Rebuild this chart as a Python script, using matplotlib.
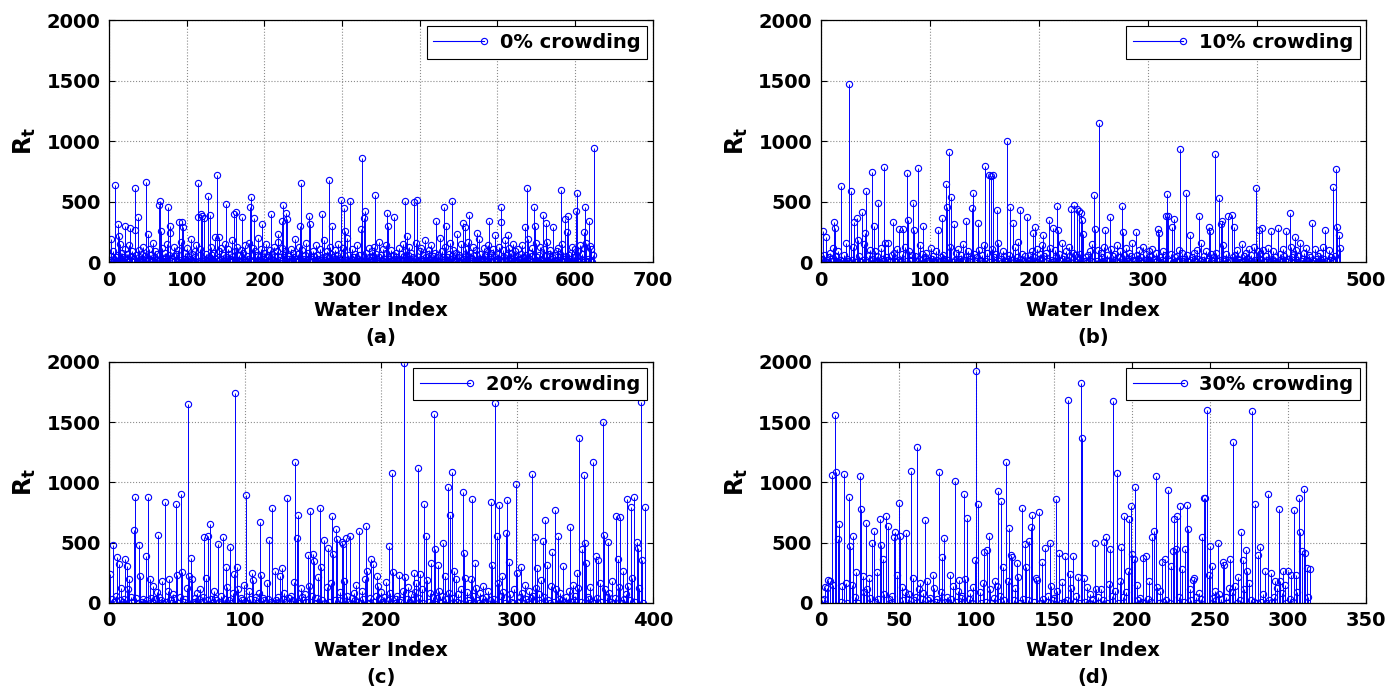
import numpy as np
import matplotlib
matplotlib.use("Agg")
import matplotlib.pyplot as plt
from matplotlib.lines import Line2D
from matplotlib.legend_handler import HandlerBase

plt.rcParams['font.family'] = ['DejaVu Sans']
plt.rcParams['font.weight'] = 'bold'

# ---- data ---------------------------------------------------------------
# low-level background of every series, in units of 10
base_a = """
2 0 5 1 9 3 0 12 4 1 0 6 2 15 3 0 8 1 4 11 0 3 7 1
0 14 2 5 1 9 0 3 18 1 6 0 2 10 4 1 0 7 3 13 0 5 2 8
1 0 11 3 6 0 2 16 1 4 9 0 3 7 1 20 2 0 5 12 1 3 0 8
4 1 15 0 6 2 9 1 3 0 13 5 2 7 0 1 10 4 0 17 2 6 1 3
0 8 2 12 1 5 0 3 19 2 7 1 0 9 4 14 0 2 6 1 11 3 0 5
1 16 3 0 7 2 10 1 4 0 13 6 1 2 8 0 21 3 5 1 0 9 2 12
3 0 6 1 15 2 4 0 11 1 7 3 0 18 2 5 1 9 0 4 13 2 6 0
1 10 3 0 8 2 14 1 5 0 3 16 2 7 1 0 12 4 2 9 0 6 1 20
2 0 5 11 1 3 0 8 2 15 4 1 6 0 10 3 1 7 2 13 0 5 1 9
0 17 2 4 1 12 3 0 6 2 9 1 14 0 3 5 1 11 2 0 8 4 19 1
3 0 7 2 13 1 5 0 10 3 1 6 16 0 2 8 1 4 12 0 3 9 1 5
2 14 0 6 1 3 11 2 0 8 4 1 18 2 5 0 9 1 3 13 0 7 2 4
1 0 10 3 6 1 15 2 0 4 8 1 12 3 0 5 2 20 1 6 0 9 3 1
11 2 4 0 7 1 14 3 0 6 2 10 1 5 0 16 2 3 8 1 0 12 4 2
0 9 1 5 13 2 0 7 3 1 17 4 0 6 2 11 1 3 0 8 14 2 5 1
3 0 10 2 6 1 19 0 4 8 2 1 12 3 0 7 1 15 2 5 0 9 3 1
6 13 0 2 8 1 4 11 0 3 16 2 5 1 0 9 3 12 1 6 0 2 18 4
1 7 0 10 3 2 14 1 5 0 8 2 11 4 0 6 1 20 3 0 9 2 5 1
13 0 4 2 7 1 16 3 0 5 10 1 2 8 0 12 4 1 6 0 15 2 3 9
1 0 11 5 2 17 0 4 8 1 3 13 0 6 2 10 1 4 0 19 3 7 1 2
0 12 3 6 1 9 0 14 2 4 1 8 0 11 5 2 16 1 3 0 7 13 2 5
1 0 10 4 2 18 1 6 0 3 12 2 8 1 0 15 4 2 9 1 5 0 11 3
2 7 0 14 1 4 10 0 6 2 19 1 3 8 0 12 5 1 0 9 2 16 4 1
6 0 13 2 3 8 1 11 0 5 2 17 1 7 0 10 3 4 1 14 0 6 2 9
1 12 0 4 7 2 15 1 3 0 10 5 2 20 1 6 0 8 3 13 1 4 0 11
2 6 1 9 0 14 3 1 7 0 12 2 5 16 1 3 0 8 4 11 2 0 6 3
"""
base_b = """
3 0 6 1 10 2 0 4 8 1 12 0 3 5 1 9 0 2 14 1 6 0 11 3
1 7 0 4 2 13 1 0 9 3 5 1 0 8 2 15 1 4 0 6 10 2 1 3
0 9 1 5 2 0 12 3 1 7 0 4 2 16 1 0 6 3 8 1 0 11 2 5
1 0 7 3 13 1 4 0 9 2 1 6 0 10 5 1 0 3 14 2 7 1 0 4
8 1 2 0 12 3 5 1 0 9 2 17 1 4 0 6 3 1 10 0 2 7 13 1
0 4 2 8 1 11 0 3 6 1 15 2 0 5 9 1 3 0 12 2 7 1 4 0
10 2 1 6 0 14 3 1 8 2 0 5 11 1 4 0 7 2 16 1 3 0 9 5
1 0 12 3 6 1 2 8 0 13 1 4 2 0 10 3 7 1 5 0 15 2 1 6
0 9 2 4 1 11 0 3 7 2 14 1 5 0 8 1 3 12 0 2 6 1 10 4
2 0 7 1 16 3 5 0 9 1 2 13 0 4 8 1 6 0 11 3 1 7 2 0
12 1 4 0 6 2 9 1 15 0 3 5 1 10 2 0 8 4 1 13 0 2 6 1
3 11 0 5 2 7 1 14 0 4 9 1 2 6 0 12 3 1 8 0 5 16 2 1
0 6 3 10 1 4 0 13 2 7 1 0 9 5 1 11 2 3 0 8 15 1 4 0
2 9 1 6 0 12 3 1 7 2 0 14 4 1 5 0 10 2 8 1 3 0 11 6
1 0 13 2 4 8 1 0 10 3 6 1 16 2 0 5 9 1 3 12 0 7 2 1
4 0 8 1 11 2 5 0 14 1 3 7 0 9 2 1 12 4 0 6 1 10 3 2
0 15 1 5 2 8 0 3 11 1 6 0 13 2 4 1 9 0 7 3 1 10 0 5
2 12 1 0 6 3 9 1 4 0 14 2 7 1 0 11 5 2 8 0 3 1 13 4
0 7 1 10 2 5 0 16 1 3 8 0 12 2 1 6 4 0 9 1 11 3 0 5
1 8 2 0 13 3 6 1 0 10 2 4 1 9 0 5 12 2 1 7
"""
base_c = """
5 3 10 1 6 0 4 2 12 1 3 8 0 11 2 5 1 15 2 4 0 9 6 1
3 0 12 2 7 1 4 14 0 3 9 1 5 2 18 0 6 1 10 3 2 0 7 4
1 16 0 5 2 9 1 3 12 0 6 2 20 1 4 0 8 3 11 1 5 0 14 2
7 1 3 0 10 4 2 17 1 6 0 9 3 1 13 2 5 0 8 24 1 3 11 0
4 2 15 1 6 0 10 3 1 19 2 5 0 8 1 12 4 2 0 16 3 7 1 9
0 13 2 5 1 22 0 3 8 1 11 4 0 6 2 17 1 9 3 0 12 5 2 7
1 0 14 3 6 2 10 0 4 21 1 8 2 5 0 13 3 1 16 0 7 2 11 4
2 9 1 0 18 3 6 1 12 0 4 8 2 15 1 5 0 10 3 20 1 7 0 4
11 2 1 6 0 14 3 9 1 5 0 17 2 4 8 1 12 0 3 6 23 1 2 10
0 5 3 13 1 7 2 0 9 16 1 4 2 11 0 6 3 19 1 8 0 5 12 2
4 1 10 0 6 15 2 3 1 8 0 13 4 2 20 1 7 0 11 3 5 1 9 2
0 17 3 6 1 12 2 0 8 4 14 1 5 0 10 2 22 1 3 7 0 16 2 6
1 9 0 4 13 2 7 1 0 11 3 18 1 5 2 8 0 15 3 1 10 4 0 6
2 12 1 7 0 19 3 5 1 9 2 0 14 4 1 6 11 0 3 8 2 17 1 5
0 10 3 1 15 2 6 0 12 4 1 8 2 21 0 5 3 13 1 7 0 9 4 2
16 1 3 0 11 5 2 8 1 18 0 4 6 2 13 1 0 9 3 7 1 14 2 0
5 10 1 8 3 12 2 6 0 9
"""
base_d = """
2 3 6 12 1 18 4 3 8 9 2 5 1 14 3 7 0 10 2 15 1 5 3 0
8 2 6 9 1 11 0 4 2 16 1 8 3 0 12 2 7 1 19 3 0 6 2 10
1 4 0 13 2 9 1 3 7 0 15 2 5 1 11 0 3 8 1 18 2 4 0 6
12 1 3 0 9 2 17 1 5 0 7 3 14 2 1 10 0 4 6 1 20 2 3 8
0 13 1 5 2 9 0 16 3 1 7 2 11 0 4 1 14 3 6 0 10 2 1 18
3 0 8 2 12 1 5 0 15 3 1 9 2 6 0 13 1 4 19 2 0 7 3 11
1 6 0 14 2 4 1 10 3 0 17 1 5 2 8 0 12 3 1 6 21 0 2 9
4 1 13 0 7 2 3 16 1 5 0 11 2 8 1 0 14 3 6 1 10 2 0 18
2 5 1 9 0 12 3 1 7 0 15 2 4 1 20 0 6 3 11 1 8 0 13 2
0 10 4 1 6 2 17 0 3 9 1 12 2 5 0 14 1 7 3 0 11 2 19 1
5 0 8 3 13 1 2 6 0 15 1 4 10 2 0 7 3 18 1 5 0 12 2 9
1 14 0 4 2 8 1 11 3 0 16 2 6 1 9 0 13 3 1 7 20 0 4 2
10 1 5 0 12 3 2 8 1 15 0 6 3 11 1 4 0 9 2 17 1 3 6 14
5 28
"""

# the taller stems: index, value
peak_idx_a = [1, 7, 10, 12, 20, 26, 32, 33, 36, 47, 49, 63, 65, 66, 75, 77, 78, 89, 93, 94,
              113, 114, 117, 119, 121, 126, 129, 138, 140, 149, 160, 163, 170, 181, 182, 185,
              196, 208, 216, 222, 223, 227, 228, 245, 246, 257, 258, 273, 282, 286, 297, 301,
              303, 309, 323, 325, 327, 328, 341, 357, 358, 366, 380, 383, 391, 396, 420, 430,
              433, 440, 447, 455, 457, 462, 473, 488, 496, 503, 504, 512, 534, 537, 546, 547,
              557, 562, 571, 581, 586, 589, 590, 600, 601, 611, 612, 617, 618, 623]
peak_val_a = [190, 640, 315, 220, 300, 285, 615, 270, 375, 660, 230, 470, 510, 260, 455, 300, 245, 335, 335, 295,
              655, 372, 395, 385, 362, 545, 388, 717, 207, 478, 395, 415, 372, 453, 543, 367,
              315, 395, 230, 342, 470, 407, 356, 296, 655, 380, 320, 395, 682, 302, 513, 451,
              260, 505, 275, 864, 367, 424, 557, 405, 300, 372, 505, 215, 495, 513, 337, 456,
              300, 505, 234, 326, 288, 392, 245, 340, 228, 329, 459, 225, 290, 611, 456, 296,
              394, 323, 288, 595, 359, 253, 380, 424, 568, 247, 456, 340, 138, 943]

peak_idx_b = [1, 4, 11, 12, 18, 22, 25, 27, 30, 32, 33, 37, 40, 41, 46, 48, 52, 57, 58, 65,
              71, 75, 78, 79, 84, 85, 88, 93, 107, 110, 114, 115, 117, 119, 121, 132, 138, 139,
              143, 150, 153, 155, 157, 161, 170, 173, 175, 180, 182, 188, 194, 196, 203, 208,
              212, 216, 217, 229, 231, 234, 236, 238, 239, 240, 250, 251, 254, 260, 264, 275,
              276, 288, 308, 309, 316, 317, 318, 321, 323, 329, 334, 338, 346, 355, 356, 361,
              364, 366, 367, 373, 376, 378, 398, 401, 404, 412, 418, 426, 429, 434, 450, 462,
              469, 472, 473, 474, 475]
peak_val_b = [260, 210, 336, 280, 628, 160, 1473, 587, 334, 367, 185, 416, 242, 587, 747, 296, 489, 788, 158, 334,
              272, 272, 734, 353, 486, 266, 780, 296, 266, 367, 647, 454, 910, 543, 315, 342, 451, 571,
              323, 796, 723, 712, 723, 435, 1003, 459, 321, 166, 435, 372, 245, 288, 228, 348,
              285, 462, 266, 438, 470, 438, 424, 408, 348, 234, 552, 272, 1150, 266, 375, 462,
              247, 247, 272, 245, 380, 560, 383, 288, 356, 938, 576, 225, 380, 293, 260, 894,
              530, 315, 340, 380, 394, 288, 617, 269, 285, 260, 285, 260, 408, 207, 326, 266,
              625, 774, 293, 223, 120]

peak_idx_c = [0, 2, 5, 6, 11, 12, 14, 17, 18, 21, 22, 26, 28, 29, 35, 40, 43, 48, 49, 52,
              53, 57, 58, 59, 69, 70, 72, 73, 79, 83, 85, 88, 92, 93, 100, 104, 110, 111, 117,
              119, 121, 126, 130, 136, 137, 138, 145, 147, 149, 150, 154, 155, 157, 160, 163,
              164, 166, 167, 170, 171, 173, 176, 183, 188, 189, 192, 193, 196, 205, 207, 208,
              216, 217, 223, 226, 228, 231, 232, 236, 238, 239, 241, 245, 246, 248, 250, 251,
              253, 259, 260, 261, 265, 266, 268, 280, 281, 283, 284, 286, 288, 291, 292, 293,
              298, 299, 302, 310, 312, 314, 318, 320, 321, 325, 327, 329, 333, 338, 343, 345,
              347, 348, 349, 350, 355, 357, 359, 362, 363, 366, 372, 373, 375, 377, 380, 383,
              384, 385, 387, 388, 390, 391, 393]
peak_val_c = [237, 476, 378, 321, 365, 305, 201, 607, 876, 479, 218, 392, 876, 199, 566, 838, 199, 824, 231, 903,
              256, 1654, 220, 375, 544, 207, 558, 658, 484, 544, 299, 467, 1744, 299, 898, 245, 672, 234, 525,
              789, 267, 288, 873, 1167, 539, 729, 400, 762, 403, 343, 786, 297, 525, 457, 721,
              408, 612, 530, 506, 490, 536, 558, 596, 637, 261, 365, 321, 218, 468, 1077, 256,
              1995, 212, 248, 1121, 240, 816, 558, 327, 1565, 449, 313, 493, 218, 963, 732, 1086,
              261, 922, 411, 207, 201, 860, 332, 833, 316, 1660, 552, 811, 218, 582, 852, 337,
              985, 250, 297, 1069, 544, 291, 511, 688, 310, 424, 773, 555, 302, 626, 245, 1366,
              446, 1064, 493, 332, 1167, 386, 351, 1499, 563, 501, 718, 365, 713, 261, 865, 797,
              204, 876, 503, 454, 1665, 359, 794]

peak_idx_d = [2, 4, 6, 7, 8, 9, 10, 11, 14, 15, 17, 18, 20, 22, 24, 25, 26, 28, 30, 32,
              33, 35, 37, 38, 39, 41, 42, 46, 47, 48, 49, 50, 54, 57, 58, 61, 63, 66, 71, 75,
              77, 78, 82, 85, 88, 91, 93, 98, 99, 100, 104, 106, 107, 111, 113, 115, 116, 118,
              119, 120, 121, 122, 125, 126, 128, 130, 131, 133, 134, 135, 137, 139, 141, 143,
              146, 150, 152, 156, 158, 159, 161, 166, 167, 168, 175, 176, 181, 182, 184, 185,
              187, 189, 192, 194, 196, 197, 198, 199, 200, 201, 206, 208, 210, 212, 213, 214,
              215, 218, 220, 222, 224, 225, 226, 227, 228, 230, 231, 233, 234, 235, 239, 244,
              245, 246, 247, 248, 249, 250, 254, 257, 258, 262, 264, 267, 269, 270, 272, 273,
              276, 278, 280, 281, 284, 286, 288, 291, 293, 294, 296, 299, 301, 303, 304, 306,
              307, 308, 309, 310, 311]
peak_val_d = [130, 190, 1064, 147, 1559, 1086, 530, 658, 1067, 160, 879, 468, 555, 256, 1056, 781, 218, 664, 207, 498,
              599, 256, 699, 479, 362, 721, 639, 547, 585, 231, 830, 552, 580, 1091, 204, 1290, 160, 688, 231, 1088,
              381, 541, 229, 1015, 190, 901, 707, 356, 1921, 822, 424, 438, 555, 182, 925, 843, 299, 1165,
              180, 623, 395, 381, 332, 212, 784, 490, 299, 509, 626, 726, 204, 751, 335, 454,
              493, 865, 416, 389, 1682, 237, 389, 1823, 1369, 207, 495, 117, 503, 547, 152, 449,
              1676, 1080, 460, 721, 261, 694, 800, 408, 367, 958, 370, 386, 180, 550, 596, 1053,
              130, 337, 365, 936, 307, 430, 697, 449, 721, 800, 283, 446, 814, 612, 207, 544,
              871, 871, 1597, 229, 471, 302, 495, 335, 316, 365, 1336, 210, 588, 354, 435, 261,
              1589, 816, 397, 463, 264, 901, 248, 180, 776, 180, 261, 261, 229, 773, 234, 871,
              585, 432, 947, 411, 291]

labels = ['0% crowding', '10% crowding', '20% crowding', '30% crowding']
panel_tags = ['(a)', '(b)', '(c)', '(d)']
x_limits = [700, 500, 400, 350]
x_steps = [100, 100, 100, 50]


def build_series(base_text, idx, vals):
    y = np.array(base_text.split(), dtype=float) * 10
    y[idx] = vals
    return y


series = [
    build_series(base_a, peak_idx_a, peak_val_a),
    build_series(base_b, peak_idx_b, peak_val_b),
    build_series(base_c, peak_idx_c, peak_val_c),
    build_series(base_d, peak_idx_d, peak_val_d),
]


class StemHandler(HandlerBase):
    # matlab style legend entry: line with the circle at the right end
    def create_artists(self, legend, orig, xdescent, ydescent, width, height, fontsize, trans):
        y = height / 2 - ydescent
        line = Line2D([-xdescent, -xdescent + width], [y, y], color='#0000ff', lw=0.8, transform=trans)
        mark = Line2D([-xdescent + width], [y], marker='o', ms=4.5, mfc='none', mec='#0000ff',
                      mew=0.8, ls='none', transform=trans)
        return [line, mark]


# ---- figure ---------------------------------------------------------------
fig = plt.figure(figsize=(13.98, 6.92), dpi=100)
positions = [[0.078, 0.621, 0.389, 0.350],
             [0.587, 0.621, 0.390, 0.350],
             [0.078, 0.129, 0.389, 0.348],
             [0.587, 0.129, 0.390, 0.348]]

for k in range(4):
    ax = fig.add_axes(positions[k])
    y = series[k]
    x = np.arange(1, len(y) + 1)
    markerline, stemlines, baseline = ax.stem(x, y)
    plt.setp(stemlines, color='#0000ff', linewidth=0.7)
    plt.setp(markerline, marker='o', markersize=4.5, markerfacecolor='none',
             markeredgecolor='#0000ff', markeredgewidth=0.8)
    baseline.set_visible(False)

    ax.set_xlim(0, x_limits[k])
    ax.set_ylim(0, 2000)
    ax.set_xticks(np.arange(0, x_limits[k] + 1, x_steps[k]))
    ax.set_yticks([0, 500, 1000, 1500, 2000])
    ax.grid(True, linestyle=':', color='0.55', linewidth=0.8)
    ax.set_axisbelow(True)
    ax.tick_params(direction='in', top=True, right=True, labelsize=14, length=4, pad=6)
    for t in ax.get_xticklabels() + ax.get_yticklabels():
        t.set_fontweight('bold')
    for sp in ax.spines.values():
        sp.set_linewidth(0.9)

    ax.set_ylabel(r'$\mathbf{R_t}$', fontsize=17, labelpad=6)
    ax.set_xlabel('Water Index', fontsize=14, fontweight='bold', labelpad=8)
    ax.text(0.5, -0.31, panel_tags[k], transform=ax.transAxes, ha='center', va='center',
            fontsize=14, fontweight='bold')

    handle = Line2D([], [], color='#0000ff')
    leg = ax.legend([handle], [labels[k]], loc='upper right', handler_map={Line2D: StemHandler()},
                    fancybox=False, edgecolor='black', fontsize=14, handlelength=2.6,
                    borderaxespad=0.3, borderpad=0.35, framealpha=1)
    leg.get_frame().set_linewidth(0.8)
    for t in leg.get_texts():
        t.set_fontweight('bold')

fig.savefig('out.png', dpi=100)
